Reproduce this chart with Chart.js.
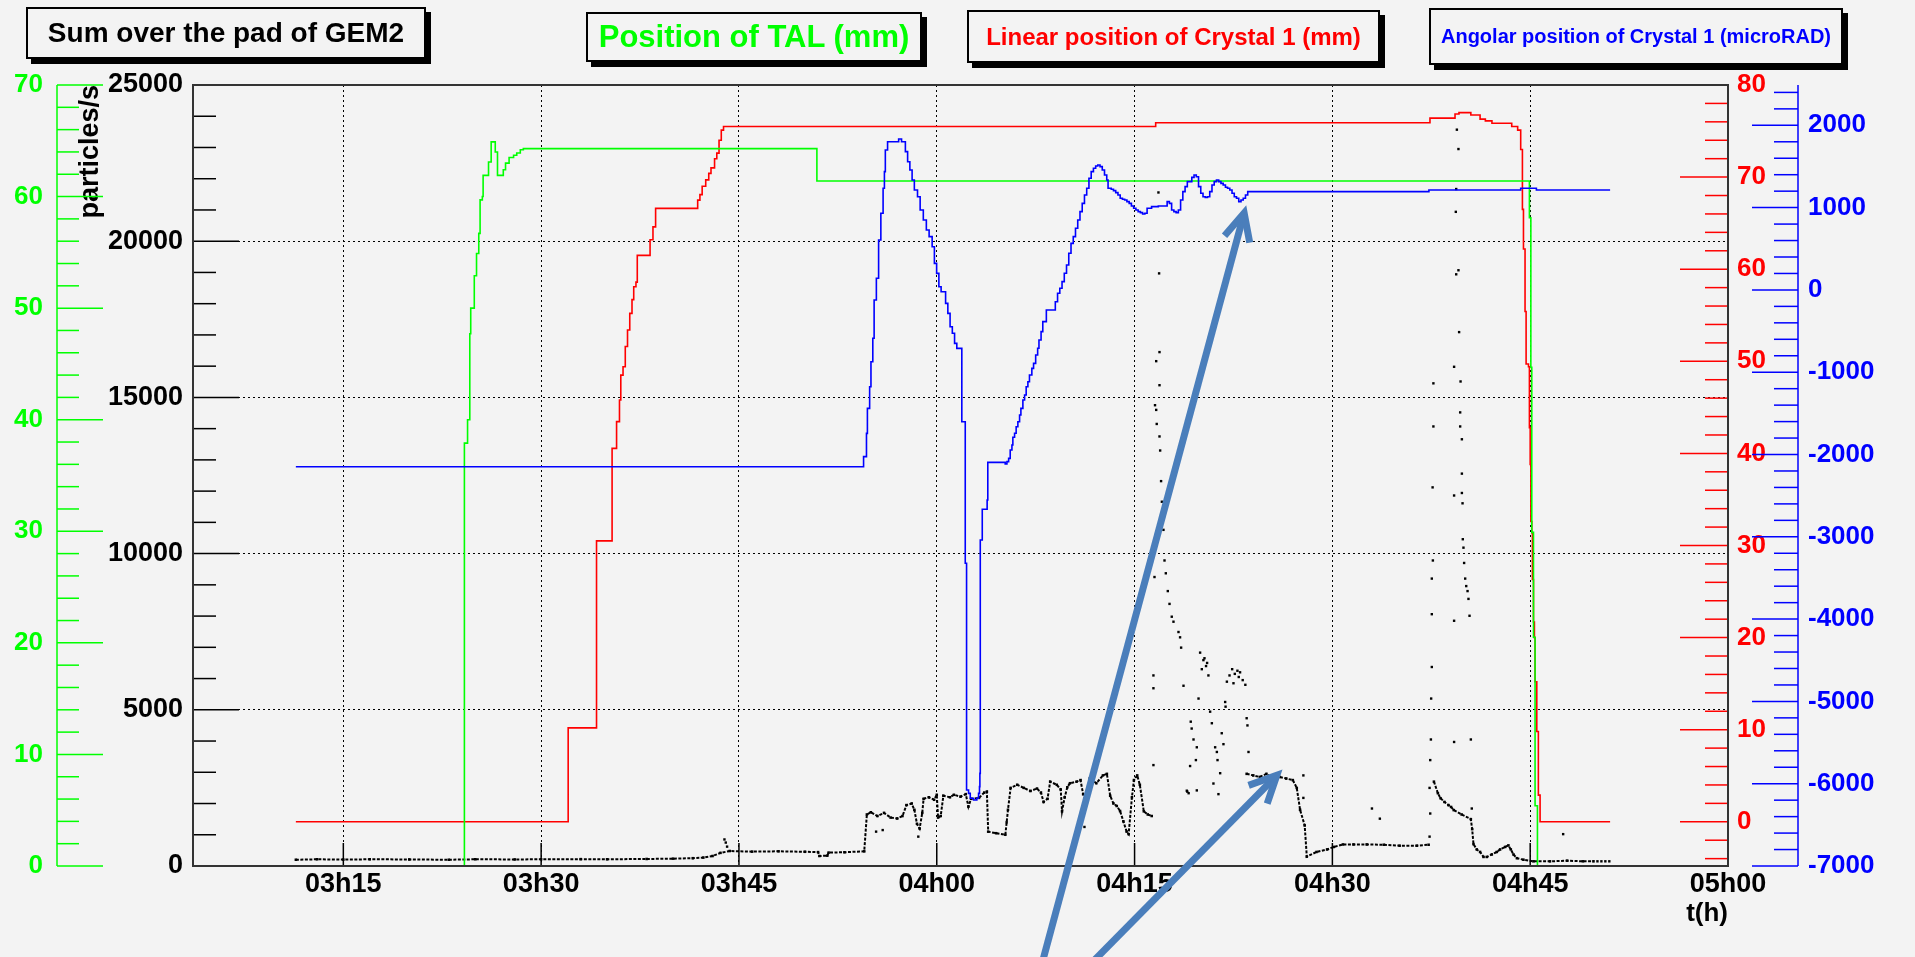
<!DOCTYPE html>
<html>
<head>
<meta charset="utf-8">
<title>Sum over the pad of GEM2</title>
<script src="https://cdn.jsdelivr.net/npm/chart.js@4.4.1/dist/chart.umd.min.js"></script>
<style>
  html, body { margin: 0; padding: 0; background: #f3f3f3; }
  #wrap { position: relative; width: 1915px; height: 957px; overflow: hidden; }
  #c { position: absolute; left: 0; top: 0; }
  .box {
    position: absolute; box-sizing: border-box; border: 2px solid #000; background: #f3f3f3;
    box-shadow: 5px 5px 0 #000; font-family: 'Liberation Sans', Arial, sans-serif; font-weight: bold;
    display: flex; align-items: center; justify-content: center; white-space: nowrap;
  }
</style>
</head>
<body>
<div id="wrap">
  <canvas id="c" width="1915" height="957"></canvas>
  <div class="box" style="left:26px;top:7px;width:400px;height:52px;font-size:28px;color:#000">Sum over the pad of GEM2</div>
  <div class="box" style="left:586px;top:12px;width:336px;height:50px;font-size:31px;color:#00ff00">Position of TAL (mm)</div>
  <div class="box" style="left:967px;top:10px;width:413px;height:53px;font-size:24px;color:#ff0000">Linear position of Crystal 1 (mm)</div>
  <div class="box" style="left:1429px;top:8px;width:414px;height:57px;font-size:20px;color:#0000ff">Angolar position of Crystal 1 (microRAD)</div>
</div>
<script>
// time is in minutes after midnight
const timeTicks = [195, 210, 225, 240, 255, 270, 285, 300];
const timeLabels = ['03h15', '03h30', '03h45', '04h00', '04h15', '04h30', '04h45', '05h00'];
const rateTicks = [0, 5000, 10000, 15000, 20000, 25000];
const talTicks = [0, 10, 20, 30, 40, 50, 60, 70];
const linTicks = [0, 10, 20, 30, 40, 50, 60, 70, 80];
const angTicks = [-7000, -6000, -5000, -4000, -3000, -2000, -1000, 0, 1000, 2000];

// position of TAL (mm), value holds from each time on
const talSteps = [
  [191.4, 0], [204.18, 37.9], [204.42, 40.0], [204.59, 47.7], [204.66, 50.0], [204.93, 52.9],
  [205.1, 54.9], [205.27, 56.7], [205.37, 59.7], [205.54, 60.0], [205.6, 61.9], [206.01, 63.1],
  [206.21, 64.9], [206.52, 64.0], [206.69, 61.9], [207.13, 62.4], [207.3, 63.0], [207.57, 63.5],
  [207.91, 63.7], [208.15, 63.9], [208.42, 64.2], [208.65, 64.3], [230.91, 61.4], [284.94, 58.1],
  [285.05, 44.7], [285.12, 29.9], [285.25, 20.5], [285.37, 5.4], [285.55, 0], [291.06, 0]
];

// linear position of crystal 1 (mm)
const linSteps = [
  [191.4, 0], [212.05, 10.2], [214.2, 30.5], [215.38, 40.55], [215.72, 43.45], [215.94, 45.8],
  [216.04, 48.5], [216.21, 49.4], [216.38, 51.6], [216.55, 53.4], [216.72, 55.2], [216.89, 56.7],
  [217.02, 58.1], [217.19, 58.6], [217.29, 61.5], [218.26, 63.2], [218.48, 64.6], [218.68, 66.6],
  [221.87, 67.5], [222.04, 68.1], [222.21, 69.0], [222.48, 69.7], [222.71, 70.4], [222.88, 71.0],
  [223.15, 72.0], [223.32, 72.6], [223.49, 74.0], [223.66, 75.1], [223.83, 75.5], [256.6, 75.9],
  [277.4, 76.4], [279.3, 76.85], [279.6, 77.0], [280.5, 76.75], [281.2, 76.3], [281.6, 76.1],
  [282.1, 75.85], [283.6, 75.5], [284.05, 75.1], [284.28, 73.0], [284.41, 66.5], [284.49, 62.2],
  [284.61, 55.4], [284.69, 49.7], [284.87, 49.4], [284.94, 42.8], [285.0, 38.8], [285.05, 32.6],
  [285.12, 31.4], [285.17, 26.3], [285.25, 21.7], [285.32, 20.0], [285.37, 15.2], [285.5, 9.8],
  [285.62, 2.9], [285.75, 0], [291.06, 0]
];

// angular position of crystal 1 (microrad)
const angSteps = [
  [191.4, -2148], [234.45, -2026], [234.67, -1743], [234.74, -1439], [234.91, -1176], [235.01, -872],
  [235.15, -588], [235.25, -122], [235.42, 141], [235.59, 607], [235.76, 931], [235.93, 1235],
  [236.03, 1437], [236.1, 1700], [236.27, 1801], [237.11, 1834], [237.33, 1801], [237.62, 1680],
  [237.79, 1558], [237.96, 1457], [238.13, 1336], [238.3, 1214], [238.54, 1133], [238.74, 971],
  [238.98, 850], [239.21, 728], [239.42, 647], [239.65, 525], [239.82, 323], [239.99, 201],
  [240.16, 39], [240.33, -22], [240.67, -163], [240.84, -285], [241.01, -447], [241.18, -527],
  [241.35, -649], [241.52, -710], [241.9, -1601], [242.16, -3322], [242.26, -6077], [242.41, -6117],
  [242.54, -6177], [242.79, -6198], [243.04, -6177], [243.17, -6117], [243.24, -6036], [243.27, -5874],
  [243.3, -3039], [243.45, -2666], [243.82, -2553], [243.87, -2095], [245.19, -2115], [245.32, -2087],
  [245.45, -2047], [245.57, -1945], [245.7, -1884], [245.77, -1791], [245.9, -1742], [246.02, -1662],
  [246.15, -1601], [246.28, -1520], [246.38, -1439], [246.53, -1338], [246.66, -1277], [246.78, -1176],
  [246.91, -1115], [247.03, -1034], [247.21, -953], [247.34, -892], [247.5, -791], [247.65, -709],
  [247.75, -608], [247.91, -507], [248.04, -385], [248.31, -244], [248.99, -143], [249.16, -41],
  [249.33, 20], [249.5, 101], [249.67, 202], [249.84, 303], [250.01, 445], [250.18, 566],
  [250.35, 647], [250.52, 749], [250.69, 850], [250.86, 951], [251.03, 1052], [251.2, 1154],
  [251.37, 1235], [251.54, 1356], [251.71, 1437], [251.88, 1478], [252.05, 1506], [252.21, 1518],
  [252.38, 1498], [252.55, 1457], [252.72, 1397], [252.89, 1336], [252.99, 1235], [253.23, 1223],
  [253.4, 1206], [253.57, 1182], [253.74, 1154], [253.91, 1113], [254.08, 1101], [254.25, 1093],
  [254.42, 1073], [254.59, 1052], [254.76, 1020], [254.93, 992], [255.1, 971], [255.27, 951],
  [255.44, 939], [255.61, 923], [255.78, 931], [255.95, 992], [256.29, 1012], [256.8, 1020],
  [257.47, 1073], [257.64, 1052], [257.81, 971], [257.98, 951], [258.15, 939], [258.32, 971],
  [258.49, 1093], [258.66, 1194], [258.83, 1255], [259.0, 1316], [259.34, 1368], [259.51, 1397],
  [259.68, 1376], [259.85, 1255], [260.02, 1174], [260.19, 1133], [260.36, 1125], [260.53, 1133],
  [260.7, 1194], [260.87, 1275], [261.04, 1316], [261.21, 1336], [261.38, 1316], [261.55, 1295],
  [261.72, 1275], [261.89, 1247], [262.05, 1235], [262.22, 1214], [262.39, 1174], [262.56, 1133],
  [262.73, 1113], [262.9, 1073], [263.07, 1093], [263.24, 1113], [263.41, 1154], [263.58, 1194],
  [277.32, 1214], [284.28, 1235], [285.47, 1214], [291.06, 1214]
];

// GEM2 rate (particles/s): dense band, null marks a break
const gemBand = [
  [191.4, 200], [193, 215], [195, 205], [197, 215], [200, 210], [203, 200], [205, 215], [208, 210],
  [210, 215], [213, 220], [215, 215], [218, 225], [220, 235], [221.5, 250], [222.3, 270], [223.0, 320],
  [223.6, 420], [224.3, 480], [226, 460], [228, 470], [230, 455], [231.0, 445], [231.1, 320], [231.7, 330],
  [231.8, 430], [233, 440], [234.5, 470],
  [234.7, 1650], [235.0, 1720], [235.5, 1600], [236.0, 1700], [236.5, 1550], [237.0, 1520], [237.4, 1600],
  [237.7, 1950], [238.1, 2000], [238.3, 1800], [238.5, 1350], [238.7, 1200], [238.9, 1700], [239.0, 2150],
  [239.4, 2200], [239.8, 2120], [240.0, 2280], [240.1, 1550], [240.3, 1600], [240.5, 2250], [241.0, 2200],
  [241.3, 2280], [241.8, 2220], [242.2, 2300], [242.4, 1900], [242.6, 2150], [243.2, 2180], [243.6, 2350],
  [243.8, 2380], [243.9, 1100], [244.5, 1050], [245.2, 1000], [245.4, 1800], [245.6, 2500], [246.1, 2600],
  [246.6, 2500], [247.1, 2400], [247.6, 2480], [247.9, 2350], [248.1, 2050], [248.4, 2150], [248.6, 2700],
  [249.1, 2600], [249.4, 2450], [249.5, 1750], [249.7, 2200], [249.9, 2520], [250.1, 2650], [250.6, 2700],
  [250.9, 2750], [251.1, 2300], [251.3, 2100], [251.6, 2800], [252.1, 2650], [252.6, 2900], [252.9, 2950],
  [253.15, 2250], [253.4, 2000], [253.65, 1920], [253.9, 1760], [254.15, 1430], [254.4, 1100], [254.55, 1020],
  [254.8, 2200], [254.95, 2750], [255.2, 2900], [255.4, 2600], [255.7, 1750], [256.0, 1650], [256.3, 1600],
  [256.4, null],
  [263.5, 2950], [264, 2900], [264.5, 2850], [265, 2950], [265.5, 2800], [266, 2850], [266.5, 2800],
  [267.0, 2750], [267.3, 2500], [267.55, 1800], [267.9, 1300], [268.06, 300], [268.8, 450], [269.6, 530],
  [270.1, 610], [270.8, 690], [271.6, 690], [272.6, 690], [273.9, 680], [275.1, 650], [276.4, 650], [277.3, 680],
  [277.35, null],
  [277.7, 2700], [278.0, 2330], [278.2, 2170], [278.5, 2050], [278.8, 1950], [279.0, 1890], [279.2, 1790],
  [279.8, 1650], [280.5, 1500], [280.6, 1180], [280.7, 700], [280.95, 530], [281.2, 450], [281.46, 290],
  [281.71, 290], [282.09, 370], [282.47, 450], [282.72, 530], [283.1, 610], [283.35, 660], [283.53, 530],
  [283.73, 370], [283.99, 250], [284.49, 200], [285.25, 150], [286.5, 150], [287.8, 170], [289.0, 150], [289.8, 150]
];

// GEM2 rate: isolated points
const gemSparse = [
  [223.9, 850], [224.0, 750], [224.1, 620], [235.4, 1100], [235.9, 1150], [238.6, 940], [245.3, 1400], [251.2, 1250],
  [256.81, 21560], [256.86, 18970], [256.89, 16450], [256.64, 16160], [256.89, 15390], [256.55, 14750],
  [256.64, 14600], [256.68, 14150], [256.89, 13750], [256.94, 13300], [257.01, 12320], [257.07, 11660],
  [257.19, 10760], [256.51, 9250], [257.27, 9780], [257.37, 9370], [257.52, 8800], [257.65, 8390],
  [257.82, 7980], [257.95, 7820], [258.33, 7490], [258.45, 7320], [258.53, 6990], [258.71, 5770],
  [256.43, 6100], [256.43, 5690], [256.43, 3230],
  [259.97, 6830], [260.22, 6590], [260.42, 6400], [260.1, 6300], [260.6, 6100], [260.3, 6650], [260.5, 6500],
  [259.85, 5360], [259.26, 4620], [259.33, 4400], [259.47, 4050], [259.72, 3800], [259.65, 3390], [259.21, 3200],
  [258.96, 2410], [259.0, 2380], [259.1, 2330], [259.72, 2420], [260.73, 4940], [260.86, 4570], [261.11, 3800],
  [261.24, 3650], [261.29, 3390], [260.98, 2640], [261.36, 2300], [261.49, 2970], [261.61, 4250], [261.74, 3900],
  [262.0, 5900], [262.2, 6100], [262.4, 6300], [262.6, 6150], [262.8, 6250], [263.0, 6200], [263.2, 5950],
  [263.4, 5800], [262.5, 5850], [262.9, 6050], [261.87, 5250], [261.9, 5100], [263.5, 4730], [263.56, 4500],
  [263.64, 3650], [267.8, 2900], [267.8, 2180],
  [277.37, 940], [277.42, 1680], [277.37, 2500], [277.42, 3390], [277.47, 4050], [277.49, 5360], [277.54, 6370],
  [277.54, 8060], [277.54, 9200], [277.62, 9780], [277.6, 12120], [277.66, 14070], [277.66, 15450],
  [279.44, 23570], [279.56, 22950], [279.39, 21670], [279.36, 20940], [279.39, 18940], [279.56, 19070],
  [279.61, 17090], [279.23, 15980], [279.72, 15510], [279.69, 14520], [279.69, 14070], [279.82, 13660],
  [279.82, 12560], [279.23, 11860], [279.82, 11940], [279.87, 11610], [279.89, 10460], [279.94, 10190],
  [279.99, 9700], [280.07, 9200], [280.15, 8960], [280.25, 8800], [280.32, 8550], [280.4, 8010],
  [279.23, 7850], [279.23, 3970], [280.5, 4050], [280.57, 1840],
  [273.0, 1840], [273.6, 1515], [287.5, 1020], [290.1, 150], [290.4, 150], [290.7, 150], [291.0, 150]
];

// hand-drawn arrows on the picture, in (time, particles/s)
const arrowTails = [[247.95, -3170], [251.59, -3170]];
const arrowTips = [[263.31, 20900], [265.79, 2903]];

Chart.defaults.font.family = "'Liberation Sans', Arial, sans-serif";
Chart.defaults.font.weight = 'bold';

function setTicks(list) {
  return scale => { scale.ticks = list.map(v => ({ value: v })); };
}

// ROOT style: ticks inside the frame, extra axes with their own lines
const rootAxes = {
  id: 'rootAxes',
  afterDatasetsDraw(chart) {
    const { ctx, chartArea: a, scales: s } = chart;
    ctx.save();
    ctx.lineWidth = 1.5;
    const seg = (x1, y1, x2, y2, col) => {
      ctx.strokeStyle = col;
      ctx.beginPath();
      ctx.moveTo(x1, y1);
      ctx.lineTo(x2, y2);
      ctx.stroke();
    };
    for (let v = 0; v <= s.y.max; v += 1000) {
      const y = s.y.getPixelForValue(v);
      seg(a.left, y, a.left + (v % 5000 ? 23 : 46), y, '#000');
    }
    timeTicks.forEach(t => {
      const x = s.x.getPixelForValue(t);
      seg(x, a.bottom, x, a.bottom - 23, '#000');
    });
    // green axis
    const gx = s.yG.left + 57;
    seg(gx, s.yG.getPixelForValue(s.yG.min), gx, s.yG.getPixelForValue(s.yG.max), '#00ff00');
    for (let v = 0; v <= s.yG.max; v += 2) {
      const y = s.yG.getPixelForValue(v);
      seg(gx, y, gx + (v % 10 ? 22 : 46), y, '#00ff00');
    }
    // red axis on the right frame
    for (let v = -4; v <= s.yR.max; v += 2) {
      const y = s.yR.getPixelForValue(v);
      seg(a.right, y, a.right - (v % 10 ? 23 : 48), y, '#ff0000');
    }
    // blue axis
    const bx = s.yB.left + 30;
    seg(bx, s.yB.getPixelForValue(s.yB.min), bx, s.yB.getPixelForValue(s.yB.max), '#0000ff');
    for (let v = -7000; v <= s.yB.max; v += 200) {
      const y = s.yB.getPixelForValue(v);
      seg(bx, y, bx - (v % 1000 ? 24 : 46), y, '#0000ff');
    }
    ctx.lineWidth = 2;
    ctx.strokeStyle = '#333';
    ctx.strokeRect(a.left, a.top, a.width, a.height);
    ctx.restore();
  },
  afterDraw(chart) {
    const { ctx, scales: s } = chart;
    ctx.save();
    ctx.strokeStyle = '#4a7ebb';
    ctx.lineWidth = 7;
    ctx.lineJoin = 'miter';
    arrowTails.forEach((tail, i) => {
      const x0 = s.x.getPixelForValue(tail[0]), y0 = s.y.getPixelForValue(tail[1]);
      const x1 = s.x.getPixelForValue(arrowTips[i][0]), y1 = s.y.getPixelForValue(arrowTips[i][1]);
      const ang = Math.atan2(y1 - y0, x1 - x0);
      ctx.beginPath();
      ctx.moveTo(x0, y0);
      ctx.lineTo(x1 - 3 * Math.cos(ang), y1 - 3 * Math.sin(ang));
      ctx.stroke();
      ctx.beginPath();
      ctx.moveTo(x1 - 30 * Math.cos(ang - 0.45), y1 - 30 * Math.sin(ang - 0.45));
      ctx.lineTo(x1, y1);
      ctx.lineTo(x1 - 30 * Math.cos(ang + 0.45), y1 - 30 * Math.sin(ang + 0.45));
      ctx.stroke();
    });
    ctx.restore();
  }
};

const stepLine = (data, color, axis, order) => ({
  data: data, yAxisID: axis, order: order, showLine: true, stepped: true,
  borderColor: color, borderWidth: 1.6, pointRadius: 0, fill: false
});

new Chart(document.getElementById('c'), {
  type: 'scatter',
  data: {
    datasets: [
      // band drawn as a broken line with markers, so it reads as dense dots
      { data: gemBand, yAxisID: 'y', order: 4, showLine: true, spanGaps: false,
        borderColor: '#000', borderWidth: 2, borderDash: [3, 1.5],
        pointStyle: 'rect', pointRadius: 1.8, backgroundColor: '#000', pointBorderWidth: 0 },
      { data: gemSparse, yAxisID: 'y', order: 3, pointStyle: 'rect', pointRadius: 1.7,
        backgroundColor: '#000', borderWidth: 0 },
      stepLine(linSteps, '#ff0000', 'yR', 2),
      stepLine(talSteps, '#00ff00', 'yG', 1),
      stepLine(angSteps, '#0000ff', 'yB', 0)
    ]
  },
  options: {
    responsive: false,
    animation: false,
    events: [],
    layout: { padding: { top: 85, left: 0, right: 0, bottom: 0 } },
    plugins: { legend: { display: false }, tooltip: { enabled: false } },
    scales: {
      x: {
        type: 'linear', position: 'bottom', min: 183.6, max: 300,
        afterBuildTicks: setTicks(timeTicks),
        afterFit: s => { s.height = 91; },
        ticks: { color: '#000', font: { size: 27 }, padding: 2, maxRotation: 0, autoSkip: false,
                 callback: v => timeLabels[timeTicks.indexOf(v)] },
        grid: { color: '#000', lineWidth: 1, drawTicks: false },
        border: { display: false, dash: [2, 3] },
        title: { display: true, text: 't(h)', align: 'end', color: '#000',
                 font: { size: 26, lineHeight: '24px' }, padding: { top: 0, bottom: 31 } }
      },
      y: {
        position: 'left', weight: 0, min: 0, max: 25000,
        afterBuildTicks: setTicks(rateTicks),
        afterFit: s => { s.width = 113; },
        ticks: { color: '#000', font: { size: 27 }, padding: 10, callback: v => String(v) },
        grid: { color: '#000', lineWidth: 1, drawTicks: false },
        border: { display: false, dash: [2, 3] },
        title: { display: true, text: 'particles/s', align: 'end', color: '#000',
                 font: { size: 27, lineHeight: '20px' }, padding: { top: 1, bottom: 0 } }
      },
      yG: {
        position: 'left', weight: 1, min: 0, max: 70,
        afterBuildTicks: setTicks(talTicks),
        afterFit: s => { s.width = 80; },
        ticks: { color: '#00ff00', font: { size: 26 }, padding: 37, callback: v => String(v) },
        grid: { display: false, drawTicks: false },
        border: { display: false }
      },
      yR: {
        position: 'right', weight: 0, min: -4.8, max: 80,
        afterBuildTicks: setTicks(linTicks),
        afterFit: s => { s.width = 40; },
        ticks: { color: '#ff0000', font: { size: 26 }, padding: 9, callback: v => String(v) },
        grid: { display: false, drawTicks: false },
        border: { display: false }
      },
      yB: {
        position: 'right', weight: 1, min: -7000, max: 2490,
        afterBuildTicks: setTicks(angTicks),
        afterFit: s => { s.width = 147; },
        ticks: { color: '#0000ff', font: { size: 26 }, padding: 40, callback: v => String(v) },
        grid: { display: false, drawTicks: false },
        border: { display: false }
      }
    }
  },
  plugins: [rootAxes]
});
</script>
</body>
</html>
